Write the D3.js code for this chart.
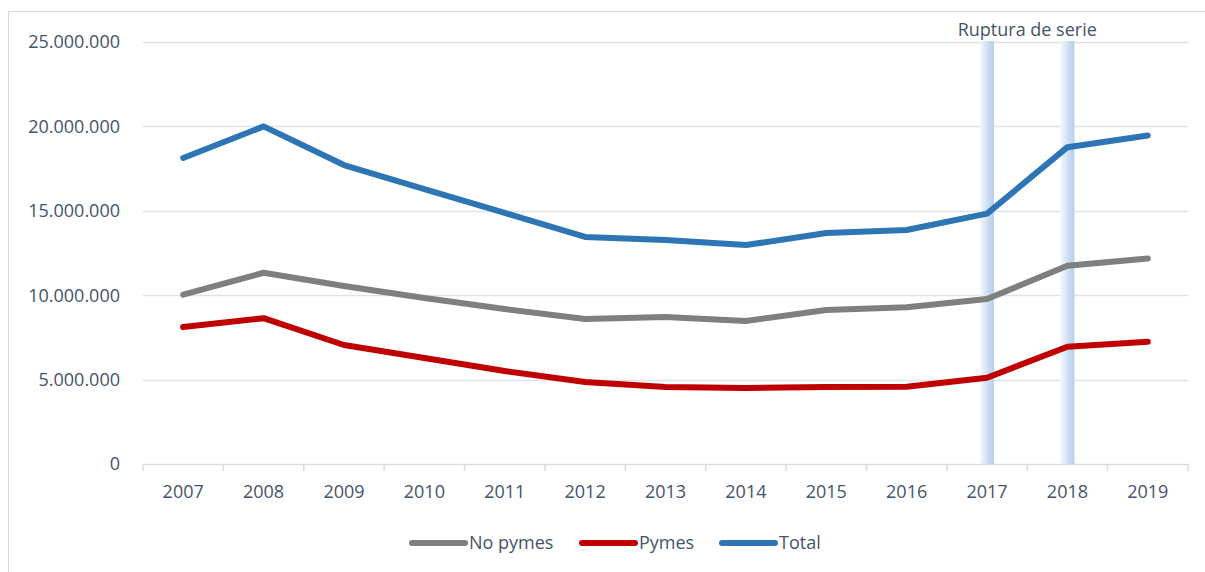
<!DOCTYPE html>
<html><head><meta charset="utf-8">
<script src="https://cdn.jsdelivr.net/npm/d3@7"></script>
<style>body{margin:0;background:#fff;} svg{display:block;font-family:"Open Sans",sans-serif;}</style>
</head><body>
<svg id="c" width="1205" height="572"></svg>
<script>
const years = ["2007","2008","2009","2010","2011","2012","2013","2014","2015","2016","2017","2018","2019"];
const noPymes = [10030000,11330000,10550000,9830000,9180000,8590000,8710000,8470000,9120000,9280000,9770000,11740000,12170000];
const pymes = [8110000,8640000,7050000,6280000,5510000,4860000,4560000,4500000,4560000,4580000,5110000,6950000,7240000];
const total = [18130000,20000000,17710000,16290000,14870000,13450000,13270000,12970000,13680000,13860000,14830000,18770000,19460000];
const yTicks = [0,5000000,10000000,15000000,20000000,25000000];
const breakYears = ["2017","2018"];
const seriesNames = ["No pymes","Pymes","Total"];
const colors = ["#7f7f7f","#c00000","#2e75b6"];

const svg = d3.select("#c");
const x = d3.scaleBand().domain(years).range([143,1188]);
const y = d3.scaleLinear().domain([0,25000000]).range([464,42]);
const fmt = v => d3.format(",")(v).replace(/,/g,".");
const txt = "#44546a";

// outer border
svg.append("rect").attr("x",8.5).attr("y",11.5).attr("width",1210).attr("height",580)
  .attr("fill","none").attr("stroke","#d9d9d9");

// gridlines
svg.append("g").selectAll("line").data(yTicks.filter(d=>d>0)).join("line")
  .attr("x1",143).attr("x2",1188).attr("y1",d=>Math.round(y(d))+0.5).attr("y2",d=>Math.round(y(d))+0.5)
  .attr("stroke","#dfe3e8").attr("stroke-width",1.5);

// y labels
svg.append("g").selectAll("text").data(yTicks).join("text")
  .attr("x",120).attr("y",d=>y(d)).attr("dy","0.35em").attr("text-anchor","end")
  .attr("fill",txt).attr("font-size",18).text(d=>fmt(d));

// x axis
const xa = svg.append("g").attr("transform","translate(0,464)")
  .call(d3.axisBottom(x).tickSize(0).tickFormat(d=>d));
xa.select(".domain").attr("stroke","#d9dde3").attr("stroke-width",1.5);
xa.selectAll("text").attr("fill",txt).attr("font-size",18).attr("font-family","Open Sans").attr("dy","1.7em");
const bounds = years.map(d=>x(d)).concat([x.range()[1]]);
svg.append("g").selectAll("line").data(bounds).join("line")
  .attr("x1",d=>d).attr("x2",d=>d).attr("y1",464).attr("y2",471)
  .attr("stroke","#d9dde3").attr("stroke-width",1.5);

// break bands
const defs = svg.append("defs");
const grad = defs.append("linearGradient").attr("id","bg").attr("x1","0").attr("x2","1").attr("y1","0").attr("y2","0");
grad.append("stop").attr("offset","0%").attr("stop-color","#f4f8fd");
grad.append("stop").attr("offset","60%").attr("stop-color","#c9ddf2");
grad.append("stop").attr("offset","100%").attr("stop-color","#b4d0ec");
svg.append("g").selectAll("rect").data(breakYears).join("rect")
  .attr("x",d=>x(d)+x.bandwidth()/2-7).attr("width",14)
  .attr("y",y(25000000)-1).attr("height",y(0)-y(25000000)+1)
  .attr("fill","url(#bg)");
svg.append("text").attr("x",(x("2017")+x("2018"))/2+x.bandwidth()/2).attr("y",36)
  .attr("text-anchor","middle").attr("fill",txt).attr("font-size",18).text("Ruptura de serie");

// lines
const line = d3.line().x((d,i)=>x(years[i])+x.bandwidth()/2).y(d=>y(d));
[noPymes,pymes,total].forEach((s,i)=>{
  svg.append("path").datum(s).attr("d",line).attr("fill","none")
    .attr("stroke",colors[i]).attr("stroke-width",6).attr("stroke-linecap","round").attr("stroke-linejoin","round");
});

// legend
const lx = [410,580,720];
const lg = svg.append("g");
seriesNames.forEach((n,i)=>{
  lg.append("line").attr("x1",lx[i]+2).attr("x2",lx[i]+55).attr("y1",543).attr("y2",543)
    .attr("stroke",colors[i]).attr("stroke-width",6).attr("stroke-linecap","round");
  lg.append("text").attr("x",lx[i]+59).attr("y",543).attr("dy","0.35em")
    .attr("fill",txt).attr("font-size",18).text(n);
});
</script>
</body></html>
